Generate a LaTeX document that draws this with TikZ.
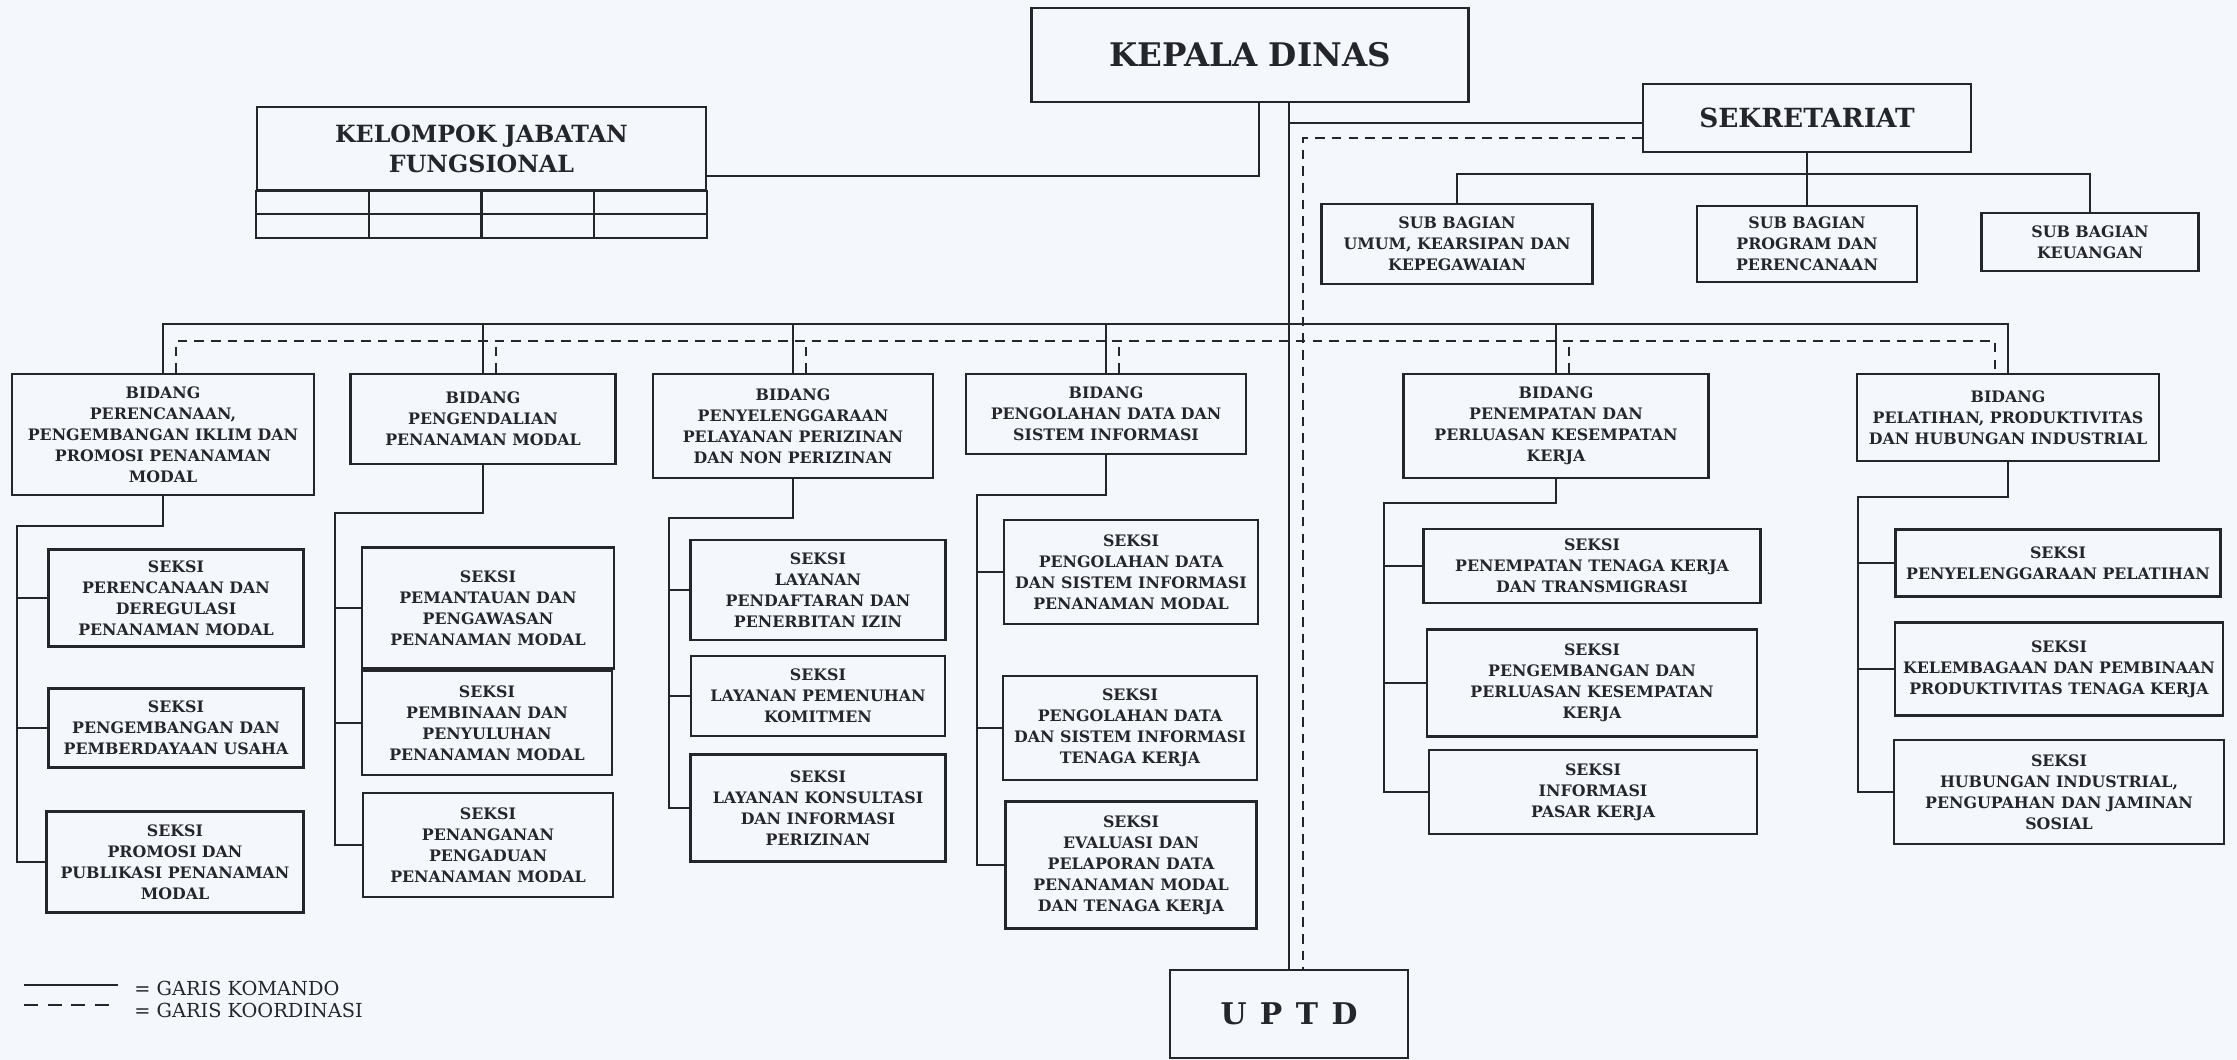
\documentclass[tikz,border=0pt]{standalone}
\usepackage{fontspec}
\setmainfont{DejaVu Serif}
\usepackage{tikz}
\usetikzlibrary{positioning,calc}
\usepackage{xcolor}
\definecolor{paperbg}{RGB}{244,247,251}
\definecolor{inkdark}{RGB}{36,38,44}

\begin{document}
\begin{tikzpicture}[x=0.02cm, y=-0.02cm,
    unit/.style={draw=inkdark, line width=1.3pt, fill=paperbg, text=inkdark, align=center,
      inner sep=1pt, font=\bfseries\fontsize{9}{12}\selectfont},
    tabel/.style={inkdark, line width=1.3pt},
    komando/.style={inkdark, line width=1.1pt},
    koordinasi/.style={inkdark, line width=1.1pt, dash pattern=on 5.5pt off 4pt},
    legend/.style={text=inkdark, anchor=west, inner sep=0pt, font=\fontsize{11}{12}\selectfont}]

    \fill[paperbg] (0,0) rectangle (2237,1060);
    \useasboundingbox (0,0) rectangle (2237,1060);

    %, Top: kepala, kelompok, sekretariat ---
    \node[unit, minimum width=8.74cm, minimum height=1.88cm, font=\bfseries\fontsize{18.5}{20}\selectfont] (kepala) at (1250,55) {KEPALA DINAS};
    \node[unit, minimum width=8.98cm, minimum height=1.66cm, font=\bfseries\fontsize{13.5}{17}\selectfont] (kjf) at (481.5,148.5) {KELOMPOK JABATAN\\FUNGSIONAL};
    \draw[tabel] (kjf.south west) rectangle ($(kjf.south east)+(0,47)$);
    \draw[tabel] ($(kjf.south west)+(0,23)$) -- ($(kjf.south east)+(0,23)$);
    \foreach \i in {1,2,3}
        \draw[tabel] ($(kjf.south west)!\i/4!(kjf.south east)$) -- ++(0,47);
    \node[unit, minimum width=6.56cm, minimum height=1.36cm, font=\bfseries\fontsize{15}{18}\selectfont] (sek) at (1807,118) {SEKRETARIAT};
    \node[unit, minimum width=5.42cm, minimum height=1.6cm] (sb1) at (1457,244) {SUB BAGIAN\\UMUM, KEARSIPAN DAN\\KEPEGAWAIAN};
    \node[unit, minimum width=4.4cm, minimum height=1.52cm] (sb2) at (1807,244) {SUB BAGIAN\\PROGRAM DAN\\PERENCANAAN};
    \node[unit, minimum width=4.34cm, minimum height=1.16cm] (sb3) at (2090,242) {SUB BAGIAN\\KEUANGAN};

    %, Bidang row ---
    \node[unit, minimum width=6.04cm, minimum height=2.42cm] (b1) at (163,434.5) {BIDANG\\PERENCANAAN,\\PENGEMBANGAN IKLIM DAN\\PROMOSI PENANAMAN\\MODAL};
    \node[unit, minimum width=5.3cm, minimum height=1.8cm] (b2) at (483,419) {BIDANG\\PENGENDALIAN\\PENANAMAN MODAL};
    \node[unit, minimum width=5.6cm, minimum height=2.08cm] (b3) at (793,426) {BIDANG\\PENYELENGGARAAN\\PELAYANAN PERIZINAN\\DAN NON PERIZINAN};
    \node[unit, minimum width=5.6cm, minimum height=1.6cm] (b4) at (1106,414) {BIDANG\\PENGOLAHAN DATA DAN\\SISTEM INFORMASI};
    \node[unit, minimum width=6.1cm, minimum height=2.08cm] (b5) at (1556,426) {BIDANG\\PENEMPATAN DAN\\PERLUASAN KESEMPATAN\\KERJA};
    \node[unit, minimum width=6.04cm, minimum height=1.74cm] (b6) at (2008,417.5) {BIDANG\\PELATIHAN, PRODUKTIVITAS\\DAN HUBUNGAN INDUSTRIAL};

    %, Seksi ---
    \node[unit, minimum width=5.1cm, minimum height=1.94cm] (s1-1) at (176,598) {SEKSI\\PERENCANAAN DAN\\DEREGULASI\\PENANAMAN MODAL};
    \node[unit, minimum width=5.1cm, minimum height=1.58cm] (s1-2) at (176,728) {SEKSI\\PENGEMBANGAN DAN\\PEMBERDAYAAN USAHA};
    \node[unit, minimum width=5.14cm, minimum height=2.02cm] (s1-3) at (175,862) {SEKSI\\PROMOSI DAN\\PUBLIKASI PENANAMAN\\MODAL};

    \node[unit, minimum width=5.04cm, minimum height=2.42cm] (s2-1) at (488,608) {SEKSI\\PEMANTAUAN DAN\\PENGAWASAN\\PENANAMAN MODAL};
    \node[unit, minimum width=5cm, minimum height=2.08cm] (s2-2) at (487,723) {SEKSI\\PEMBINAAN DAN\\PENYULUHAN\\PENANAMAN MODAL};
    \node[unit, minimum width=5cm, minimum height=2.08cm] (s2-3) at (488,845) {SEKSI\\PENANGANAN\\PENGADUAN\\PENANAMAN MODAL};

    \node[unit, minimum width=5.1cm, minimum height=2cm] (s3-1) at (818,590) {SEKSI\\LAYANAN\\PENDAFTARAN DAN\\PENERBITAN IZIN};
    \node[unit, minimum width=5.08cm, minimum height=1.6cm] (s3-2) at (818,696) {SEKSI\\LAYANAN PEMENUHAN\\KOMITMEN};
    \node[unit, minimum width=5.1cm, minimum height=2.14cm] (s3-3) at (818,808) {SEKSI\\LAYANAN KONSULTASI\\DAN INFORMASI\\PERIZINAN};

    \node[unit, minimum width=5.08cm, minimum height=2.08cm] (s4-1) at (1131,572) {SEKSI\\PENGOLAHAN DATA\\DAN SISTEM INFORMASI\\PENANAMAN MODAL};
    \node[unit, minimum width=5.08cm, minimum height=2.08cm] (s4-2) at (1130,728) {SEKSI\\PENGOLAHAN DATA\\DAN SISTEM INFORMASI\\TENAGA KERJA};
    \node[unit, minimum width=5.02cm, minimum height=2.54cm] (s4-3) at (1131,865) {SEKSI\\EVALUASI DAN\\PELAPORAN DATA\\PENANAMAN MODAL\\DAN TENAGA KERJA};

    \node[unit, minimum width=6.74cm, minimum height=1.48cm] (s5-1) at (1592,566) {SEKSI\\PENEMPATAN TENAGA KERJA\\DAN TRANSMIGRASI};
    \node[unit, minimum width=6.6cm, minimum height=2.14cm] (s5-2) at (1592,683) {SEKSI\\PENGEMBANGAN DAN\\PERLUASAN KESEMPATAN\\KERJA};
    \node[unit, minimum width=6.56cm, minimum height=1.68cm] (s5-3) at (1593,792) {SEKSI\\INFORMASI\\PASAR KERJA};

    \node[unit, minimum width=6.5cm, minimum height=1.34cm] (s6-1) at (2058,563) {SEKSI\\PENYELENGGARAAN PELATIHAN};
    \node[unit, minimum width=6.56cm, minimum height=1.86cm] (s6-2) at (2059,669) {SEKSI\\KELEMBAGAAN DAN PEMBINAAN\\PRODUKTIVITAS TENAGA KERJA};
    \node[unit, minimum width=6.6cm, minimum height=2.08cm] (s6-3) at (2059,792) {SEKSI\\HUBUNGAN INDUSTRIAL,\\PENGUPAHAN DAN JAMINAN\\SOSIAL};

    \node[unit, minimum width=4.76cm, minimum height=1.76cm, font=\bfseries\fontsize{17}{20}\selectfont] (uptd) at (1289,1014) {U\hspace{0.45em}P\hspace{0.45em}T\hspace{0.45em}D};

    %, Garis komando ---
    \draw[komando] (uptd.north) -- (uptd.north |- kepala.south);
    \coordinate (kjfl) at (1259,176);
    \draw[komando] (kjf.east |- kjfl) -| (kepala.south -| kjfl);
    \coordinate (sekl) at (0,123);
    \draw[komando] (uptd.north |- sekl) -- (sek.west |- sekl);
    \coordinate (sbus) at (0,174);
    \draw[komando] (sek.south) -- (sek.south |- sbus);
    \draw[komando] (sb1.north) |- (sb3.north |- sbus) -- (sb3.north);
    \draw[komando] (sb2.north) -- (sb2.north |- sbus);
    \coordinate (bbus) at (0,324);
    \draw[komando] (b1.north) |- (b6.north |- bbus) -- (b6.north);
    \foreach \b in {b2,b3,b4,b5}
        \draw[komando] (\b.north) -- (\b.north |- bbus);
    \foreach \i/\x/\y in {1/17/526, 2/335/513, 3/669/518, 4/977/495, 5/1384/503, 6/1858/497} {
        \coordinate (e\i) at (\x,\y);
        \draw[komando] (b\i.south) |- (e\i) |- (s\i-3.west);
        \foreach \j in {1,2}
            \draw[komando] (s\i-\j.west) -- (s\i-\j.west -| e\i);
    }

    %, Garis koordinasi ---
    \coordinate (kv) at (1303,138);
    \draw[koordinasi] (sek.west |- kv) -| (uptd.north -| kv);
    \coordinate (kbus) at (0,341);
    \foreach \i in {1,...,5}
        \coordinate (b\i-k) at ($(b\i.north)+(13,0)$);
    \coordinate (b6-k) at ($(b6.north)+(-13,0)$);
    \draw[koordinasi] (b1-k) |- (b6-k |- kbus) -- (b6-k);
    \foreach \i in {2,...,5}
        \draw[koordinasi] (b\i-k) -- (b\i-k |- kbus);

    %, Legend ---
    \node[legend] (lgk) at (134,988) {= GARIS KOMANDO};
    \node[legend] (lgd) at (134,1010) {= GARIS KOORDINASI};
    \draw[komando, line width=1.3pt] (24,985) -- (118,985);
    \draw[koordinasi, line width=1.6pt, dash pattern=on 8pt off 5.5pt] (24,1005) -- (118,1005);
\end{tikzpicture}
\end{document}
